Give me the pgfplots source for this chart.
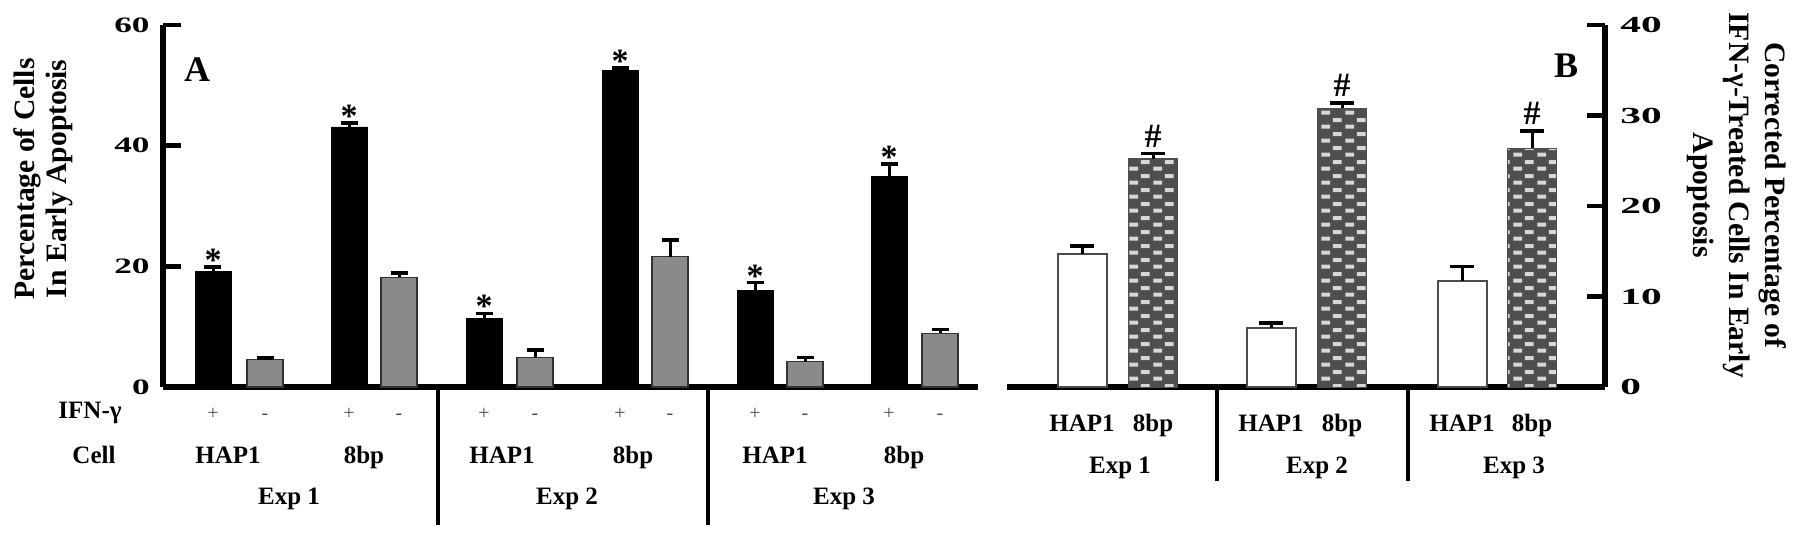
\documentclass[border=0pt]{standalone}
\usepackage{fontspec}
\setmainfont{Liberation Serif}
\usepackage{graphicx}
\usepackage{pgfplots}
\pgfplotsset{compat=1.18}
\usetikzlibrary{patterns}

\definecolor{bargray}{RGB}{138,138,138}
\definecolor{chkdark}{RGB}{78,78,78}
\definecolor{chklight}{RGB}{215,215,215}

% light bricks on a dark ground, like the 8bp bars of panel B
\pgfdeclarepatternformonly{chk}{\pgfpointorigin}{\pgfqpoint{12pt}{7pt}}{\pgfqpoint{12pt}{7pt}}{%
  \pgfpathrectangle{\pgfqpoint{0.75pt}{0.75pt}}{\pgfqpoint{4.5pt}{2.1pt}}%
  \pgfpathrectangle{\pgfqpoint{6.75pt}{4.25pt}}{\pgfqpoint{4.5pt}{2.1pt}}%
  \pgfusepath{fill}}

\pgfplotsset{
  panel/.style={
    scale only axis, height=181pt, ymin=0, clip=false,
    axis x line=bottom, axis y line=#1,
    axis line style={-, line width=3pt},
    every outer x axis line/.append style={-},
    every outer y axis line/.append style={-},
    every inner x axis line/.append style={-},
    every inner y axis line/.append style={-},
    tick align=inside, major tick length=9pt,
    ytick style={line width=2.3pt, black},
    xtick style={draw=none},
    /pgf/number format/assume math mode=true,
  },
  errs/.style={mark=none, draw=none, forget plot,
    error bars/.cd, y dir=plus, y explicit,
    error bar style={line width=1.5pt, draw=black},
    error mark options={rotate=90, mark size=#1, line width=1.8pt, draw=black}},
  stars/.style 2 args={mark=none, draw=none, forget plot,
    nodes near coords={#1},
    every node near coord/.append style={inner sep=0pt, yshift=#2,
      font=\bfseries\fontsize{17}{17}\selectfont}},
}

\begin{document}
\begin{tikzpicture}
\useasboundingbox (0,0) rectangle (900pt,-268pt);

% ---------- panel A ----------
\begin{axis}[panel=left,
  at={(81.5pt,-193.5pt)}, anchor=south west,
  width=407.5pt, xmin=163, xmax=978, ymax=60,
  ytick={0,20,40,60},
  yticklabel={\scalebox{1.6}[1]{\pgfmathprintnumber{\tick}}},
  yticklabel style={anchor=east, inner sep=0pt, xshift=-6.5pt,
    font=\bfseries\fontsize{11}{12}\selectfont},
  xtick={213,265,349,399,484,535,620,670,755,805,889,940},
  xticklabels={+,-,+,-,+,-,+,-,+,-,+,-},
  xticklabel style={anchor=base, yshift=-16pt, text=black!70,
    font=\fontsize{10}{12}\selectfont},
  ylabel={Percentage of Cells\\In Early Apoptosis},
  ylabel style={align=center, at={(rel axis cs:-0.147,0.575)}, anchor=center,
    font=\bfseries\fontsize{14.8}{16}\selectfont},
]
% IFN-gamma +
\addplot[ybar, bar shift=0pt, bar width=18pt, fill=black, draw=black]
  coordinates {(213,19.1) (349,43.1) (484,11.4) (620,52.4) (755,16.0) (889,34.9)};
% IFN-gamma -
\addplot[ybar, bar shift=0pt, bar width=18pt, fill=bargray, draw=black!80, line width=0.6pt]
  coordinates {(265,4.5) (399,18.2) (535,4.9) (670,21.6) (805,4.2) (940,8.9)};
\addplot[errs=4.25pt] coordinates {
  (213,19.1) +- (0,0.8) (349,43.1) +- (0,0.7) (484,11.4) +- (0,0.8)
  (620,52.4) +- (0,0.5) (755,16.0) +- (0,1.3) (889,34.9) +- (0,2.1)
  (265,4.5) +- (0,0.3) (399,18.2) +- (0,0.7) (535,4.9) +- (0,1.2)
  (670,21.6) +- (0,2.8) (805,4.2) +- (0,0.7) (940,8.9) +- (0,0.6)};
\addplot[stars={*}{-2.5pt}] coordinates {
  (213,19.9) (349,43.8) (484,12.2) (620,52.9) (755,17.3) (889,37.0)};
\end{axis}

% ---------- panel B ----------
\begin{axis}[panel=right,
  at={(503.5pt,-193.5pt)}, anchor=south west,
  width=299pt, xmin=1007, xmax=1605, ymax=40,
  ytick={0,10,20,30,40},
  yticklabel={\scalebox{1.8}[1]{\pgfmathprintnumber{\tick}}},
  yticklabel style={anchor=west, inner sep=0pt, xshift=7.5pt,
    font=\bfseries\fontsize{11.5}{12}\selectfont},
  xtick={1082,1153,1271,1342,1462,1532},
  xticklabels={HAP1,8bp,HAP1,8bp,HAP1,8bp},
  xticklabel style={anchor=base, yshift=-22pt,
    font=\bfseries\fontsize{12.5}{14}\selectfont},
  ylabel={Corrected Percentage of\\IFN-γ-Treated Cells In Early\\Apoptosis},
  ylabel style={align=center, rotate=180, at={(rel axis cs:1.221,0.530)}, anchor=center,
    font=\bfseries\fontsize{14.8}{18}\selectfont},
]
% HAP1
\addplot[ybar, bar shift=0pt, bar width=24.5pt, fill=white, draw=black!70, line width=1pt]
  coordinates {(1082,14.7) (1271,6.5) (1462,11.7)};
% 8bp
\addplot[ybar, bar shift=0pt, bar width=24.5pt, fill=chkdark, draw=chkdark, line width=0.5pt,
  postaction={pattern=chk, pattern color=chklight}]
  coordinates {(1153,25.2) (1342,30.8) (1532,26.4)};
\addplot[errs=6pt] coordinates {
  (1082,14.7) +- (0,0.9) (1271,6.5) +- (0,0.6) (1462,11.7) +- (0,1.6)
  (1153,25.2) +- (0,0.6) (1342,30.8) +- (0,0.6) (1532,26.4) +- (0,1.9)};
\addplot[stars={\#}{3pt}] coordinates {(1153,25.8) (1342,31.4) (1532,28.3)};
\end{axis}

% ---------- group labels and separators ----------
\begin{scope}[x=0.5pt, y=-0.5pt]
\tikzset{lab/.style={anchor=base, font=\bfseries\fontsize{12.5}{14}\selectfont}}
\node[font=\bfseries\fontsize{18}{18}\selectfont] at (197,70) {A};
\node[font=\bfseries\fontsize{18}{18}\selectfont] at (1566,66) {B};

\node[lab] at (90,418) {IFN-γ};
\node[lab] at (94,463) {Cell};
\foreach \x/\t in {228/HAP1, 364/8bp, 502/HAP1, 633/8bp, 775/HAP1, 904/8bp}
  \node[lab] at (\x,463) {\t};
\foreach \x/\t in {289/Exp 1, 567/Exp 2, 844/Exp 3}
  \node[lab] at (\x,504) {\t};
\foreach \x/\t in {1120/Exp 1, 1317/Exp 2, 1514/Exp 3}
  \node[lab] at (\x,473) {\t};

\foreach \x in {438,708}
  \draw[line width=1.75pt] (\x,387) -- (\x,525);
\foreach \x in {1217,1408}
  \draw[line width=1.75pt] (\x,387) -- (\x,481);
\end{scope}
\end{tikzpicture}
\end{document}
